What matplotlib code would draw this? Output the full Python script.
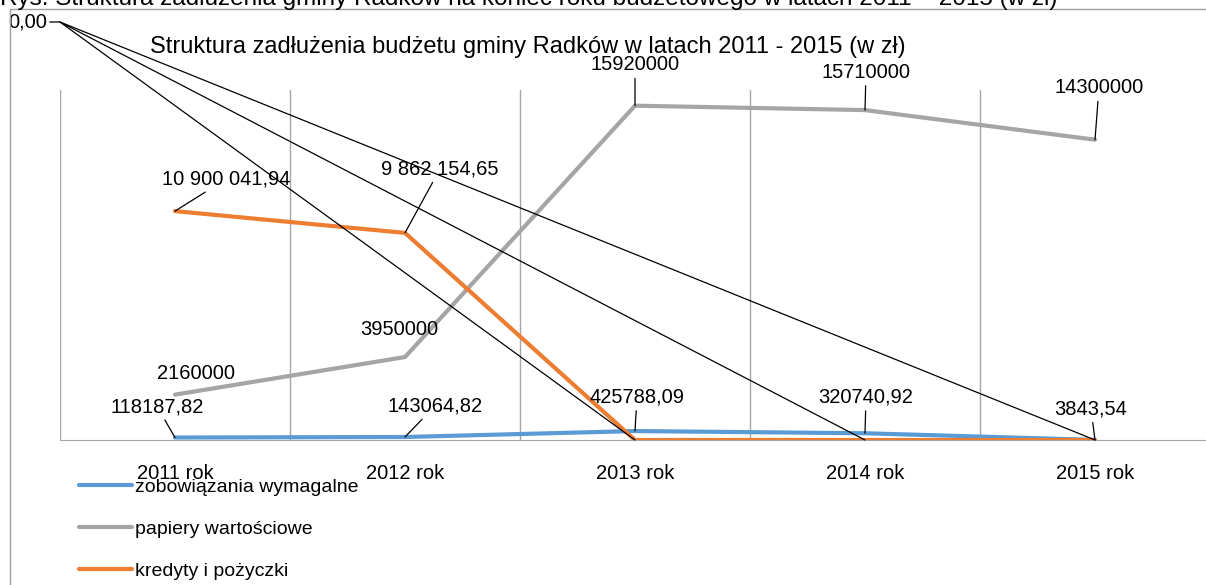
import numpy as np
import matplotlib
matplotlib.use("Agg")
import matplotlib.pyplot as plt
from matplotlib.patches import Rectangle

plt.rcParams['font.family'] = ['Liberation Sans', 'DejaVu Sans']

# data
years = ["2011 rok", "2012 rok", "2013 rok", "2014 rok", "2015 rok"]
zobowiazania = [118187.82, 143064.82, 425788.09, 320740.92, 3843.54]
papiery = [2160000, 3950000, 15920000, 15710000, 14300000]
kredyty = [10900041.94, 9862154.65, 0, 0, 0]

lbl_zob = ["118187,82", "143064,82", "425788,09", "320740,92", "3843,54"]
lbl_pap = ["2160000", "3950000", "15920000", "15710000", "14300000"]
lbl_kre = ["10 900 041,94", "9 862 154,65"]

series_names = ["zobowiązania wymagalne", "papiery wartościowe", "kredyty i pożyczki"]
colors = ["#5b9bd5", "#a5a5a5", "#ed7d31"]

# label offsets in pixels (dx, dy) and whether a leader line is drawn
off_zob = [(-18, 31, True), (30, 31, True), (2, 34, True), (1, 36, True), (-4, 31, True)]
off_pap = [(21, 21, False), (-6, 28, False), (0, 41, True), (1, 38, True), (4, 52, True)]
off_kre = [(51, 32, True), (35, 64, True)]

W, H = 1206, 585
fig = plt.figure(figsize=(W / 100, H / 100), dpi=100)
fig.patch.set_facecolor("white")

# outer frame of the embedded chart
fig.add_artist(Rectangle((10 / W, -0.1), 1.2, 1 - 9 / H + 0.1, transform=fig.transFigure,
                         fill=False, edgecolor="#a0a0a0", lw=1))

# caption cut off at the top
fig.text(0.0, 1 - 5 / H, "Rys. Struktura zadłużenia gminy Radków na koniec roku budżetowego w latach 2011 – 2015 (w zł)",
         fontsize=17.5, ha="left", va="baseline")

ax = fig.add_axes([60 / W, (H - 440) / H, 1150 / W, 350 / H])
x = np.arange(len(years))
ymax = 350 / 21 * 1e6
ax.set_xlim(-0.5, 4.5)
ax.set_ylim(0, ymax)

for b in np.arange(-0.5, 4.0, 1.0):
    ax.axvline(b, color="#a6a6a6", lw=1, zorder=1)

ax.plot(x, zobowiazania, color=colors[0], lw=3, label=series_names[0], zorder=3, solid_capstyle="round")
ax.plot(x, papiery, color=colors[1], lw=3, label=series_names[1], zorder=3, solid_capstyle="round")
ax.plot(x, kredyty, color=colors[2], lw=3, label=series_names[2], zorder=4, solid_capstyle="round")

for sp in ["top", "left", "right"]:
    ax.spines[sp].set_visible(False)
ax.spines["bottom"].set_color("#a6a6a6")
ax.set_yticks([])
ax.set_xticks(x)
ax.set_xticklabels(years, fontsize=14.5)
ax.tick_params(axis="x", length=0, pad=17)

lead = dict(arrowstyle="-", color="black", lw=0.9, shrinkA=1, shrinkB=0)


def labels(vals, texts, offs):
    for i, (t, (dx, dy, has)) in enumerate(zip(texts, offs)):
        ax.annotate(t, xy=(x[i], vals[i]), xytext=(dx, dy), textcoords="offset pixels",
                    ha="center", va="center", fontsize=14.5, zorder=6,
                    arrowprops=lead if has else None)


labels(zobowiazania, lbl_zob, off_zob)
labels(papiery, lbl_pap, off_pap)
labels(kredyty, lbl_kre, off_kre)

# the three "0,00" labels of kredyty ended up in the corner
corner = (0.0, (440 - 22) / 350)
for i in range(2, 5):
    ax.annotate("", xy=(x[i], kredyty[i]), xytext=corner, textcoords="axes fraction",
                arrowprops=dict(arrowstyle="-", color="black", lw=0.9, shrinkA=0, shrinkB=0),
                zorder=6, annotation_clip=False)
ax.annotate("0,00", xy=corner, xycoords="axes fraction", xytext=(-13, 0), textcoords="offset pixels",
            ha="right", va="center", fontsize=14.5, annotation_clip=False,
            arrowprops=dict(arrowstyle="-", color="black", lw=0.9, shrinkA=0, shrinkB=0))

fig.text(528 / W, 1 - 47 / H, "Struktura zadłużenia budżetu gminy Radków w latach 2011 - 2015 (w zł)",
         fontsize=17, ha="center", va="center")

fig.legend(loc="upper left", bbox_to_anchor=(79 / W, 1 - 478 / H), frameon=False, fontsize=14,
           handlelength=2.7, handletextpad=0.2, labelspacing=1.26, borderpad=0, borderaxespad=0)

fig.savefig("out.png", dpi=100)
